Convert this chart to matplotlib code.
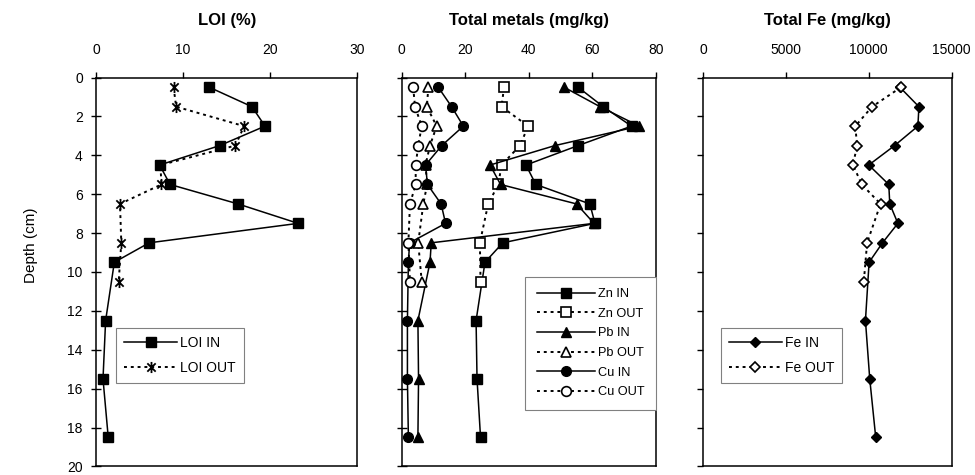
import numpy as np
import matplotlib
matplotlib.use("Agg")
import matplotlib.pyplot as plt
from matplotlib.path import Path

plt.rcParams['font.family'] = ['Liberation Sans', 'DejaVu Sans']

# depths (cm) of the sampled layers
depth_in = [0.5, 1.5, 2.5, 3.5, 4.5, 5.5, 6.5, 7.5, 8.5, 9.5, 12.5, 15.5, 18.5]
depth_out = [0.5, 1.5, 2.5, 3.5, 4.5, 5.5, 6.5, 8.5, 10.5]

loi_in = [13.0, 17.9, 19.4, 14.2, 7.3, 8.5, 16.3, 23.2, 6.1, 2.1, 1.1, 0.8, 1.4]
loi_out = [8.9, 9.2, 17.0, 16.0, 7.4, 7.5, 2.75, 2.9, 2.6]

zn_in = [55.5, 63.4, 72.3, 55.5, 39.1, 42.2, 59.2, 60.8, 31.8, 26.2, 23.4, 23.7, 24.8]
zn_out = [32.2, 31.4, 39.8, 37.2, 31.4, 30.4, 27.2, 24.6, 24.8]
pb_in = [51.1, 62.4, 74.7, 48.2, 27.8, 31.1, 55.0, 60.5, 9.3, 8.9, 5.1, 5.3, 5.1]
pb_out = [8.4, 7.9, 11.0, 8.9, 7.5, 8.0, 6.8, 5.2, 6.3]
cu_in = [11.5, 15.7, 19.4, 12.6, 7.5, 8.1, 12.4, 13.8, 2.5, 2.1, 1.8, 1.8, 2.1]
cu_out = [3.6, 4.2, 6.3, 5.2, 4.4, 4.4, 2.6, 2.1, 2.6]

fe_in = [11880, 13030, 12970, 11560, 10000, 11210, 11270, 11760, 10830, 10020, 9800, 10060, 10420]
fe_out = [11950, 10200, 9190, 9290, 9050, 9580, 10710, 9900, 9700]

# asterisk marker like the Excel one
star = Path([(0, -1), (0, 1), (-0.75, -0.75), (0.75, 0.75), (-0.75, 0.75), (0.75, -0.75)],
            [Path.MOVETO, Path.LINETO, Path.MOVETO, Path.LINETO, Path.MOVETO, Path.LINETO])

dots = (0, (1.5, 2.0))
IN = dict(color='black', lw=1.1, ls='-', mec='black', mfc='black')
OUT = dict(color='black', lw=1.4, ls=dots, mec='black', mfc='white', mew=1.2)

fig = plt.figure(figsize=(9.75, 4.75), dpi=100)
bottom, height = 0.018, 0.8188
ax1 = fig.add_axes([0.0985, bottom, 0.268, height])
ax2 = fig.add_axes([0.412, bottom, 0.2608, height])
ax3 = fig.add_axes([0.7213, bottom, 0.2546, height])

ax1.plot(loi_in, depth_in, marker='s', ms=7, label='LOI IN', **IN)
ax1.plot(loi_out, depth_out, marker=star, ms=8, label='LOI OUT',
         color='black', lw=1.4, ls=dots, mec='black', mew=1.3)
ax1.set_xlim(0, 30)
ax1.set_xticks([0, 10, 20, 30])

ax2.plot(zn_in, depth_in, marker='s', ms=6.5, label='Zn IN', **IN)
ax2.plot(zn_out, depth_out, marker='s', ms=6.5, label='Zn OUT', **OUT)
ax2.plot(pb_in, depth_in, marker='^', ms=7.5, label='Pb IN', **IN)
ax2.plot(pb_out, depth_out, marker='^', ms=7.5, label='Pb OUT', **OUT)
ax2.plot(cu_in, depth_in, marker='o', ms=7, label='Cu IN', **IN)
ax2.plot(cu_out, depth_out, marker='o', ms=7, label='Cu OUT', **OUT)
ax2.set_xlim(0, 80)
ax2.set_xticks([0, 20, 40, 60, 80])

ax3.plot(fe_in, depth_in, marker='D', ms=5.5, label='Fe IN', **IN)
ax3.plot(fe_out, depth_out, marker='D', ms=5.5, label='Fe OUT', **OUT)
ax3.set_xlim(0, 15000)
ax3.set_xticks([0, 5000, 10000, 15000])

titles = ['LOI (%)', 'Total metals (mg/kg)', 'Total Fe (mg/kg)']
for ax, title in zip([ax1, ax2, ax3], titles):
    ax.set_ylim(20, 0)
    ax.set_yticks(np.arange(0, 21, 2))
    ax.xaxis.tick_top()
    ax.tick_params(axis='x', direction='out', length=4.5, width=1, pad=10.5, labelsize=10)
    ax.tick_params(axis='y', direction='inout', length=7, width=1, pad=6, labelsize=10)
    for s in ax.spines.values():
        s.set_linewidth(1.1)
    ax.text(0.5, 1.147, title, transform=ax.transAxes, ha='center', va='center',
            fontsize=12, fontweight='bold')

ax2.tick_params(axis='y', labelleft=False)
ax3.tick_params(axis='y', labelleft=False, direction='out', length=4.5)

fig.text(31 / 975, (475 - 245) / 475, 'Depth (cm)', rotation=90, ha='center', va='center', fontsize=11)

leg_kw = dict(frameon=True, fancybox=False, edgecolor='#808080', numpoints=1,
              borderaxespad=0, framealpha=1)
l1 = ax1.legend(loc='upper left', bbox_to_anchor=(0.077, 0.356), fontsize=10,
                handlelength=3.8, labelspacing=0.75, handletextpad=0.2, borderpad=0.6, **leg_kw)
l2 = ax2.legend(loc='upper right', bbox_to_anchor=(1.0, 0.488), fontsize=9.2,
                handlelength=4.6, labelspacing=0.6, handletextpad=0.2, borderpad=0.9, **leg_kw)
l3 = ax3.legend(loc='upper left', bbox_to_anchor=(0.070, 0.356), fontsize=10,
                handlelength=3.8, labelspacing=0.75, handletextpad=0.2, borderpad=0.6, **leg_kw)
for leg in (l1, l2, l3):
    leg.get_frame().set_linewidth(0.8)

fig.savefig('out.png', dpi=100)
